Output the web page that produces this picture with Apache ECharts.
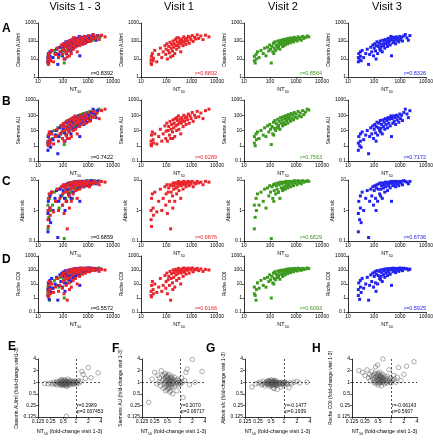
<!DOCTYPE html>
<html><head><meta charset="utf-8">
<script src="https://cdn.jsdelivr.net/npm/echarts@6/dist/echarts.min.js"></script>
<style>html,body{margin:0;padding:0;background:#fff}#c{width:433px;height:440px}</style>
</head><body><div id="c"></div>
<script>
// ---------- DATA ----------
const visitTitles = ['Visits 1 - 3', 'Visit 1', 'Visit 2', 'Visit 3'];
const panelLetters = ['A', 'B', 'C', 'D', 'E', 'F', 'G', 'H'];
const assayNames = ['Diasorin AU/ml', 'Siemens AU', 'Abbott s/c', 'Roche COI'];
const foldNames = ['Diasorin AU/ml (fold-change visit1-3)', 'Siemens AU (fold-change visit 1-3)', 'Abbott s/c (fold-change visit 1-3)', 'Roche COI (fold-change visit 1-3)'];
const xTicksNT50 = [10, 100, 1000, 10000];
const yRangeA = [1, 1000];
const yRangeB = [0.1, 1000];
const yRangeC = [0.1, 10];
const yRangeD = [0.1, 1000];
const foldTicks = [0.125, 0.25, 0.5, 1, 2, 4];
const rA = ['r=0.8392', 'r=0.8892', 'r=0.8564', 'r=0.8326'];
const rB = ['r=0.7422', 'r=0.6289', 'r=0.7563', 'r=0.7172'];
const rC = ['r=0.6859', 'r=0.6876', 'r=0.6829', 'r=0.6736'];
const rD = ['r=0.5572', 'r=0.6166', 'r=0.6093', 'r=0.5925'];
const foldR = ['r=0.2989', 'r=0.2070', 'r=-0.1477', 'r=-0.06143'];
const foldP = ['p=0.007453', 'p=0.06717', 'p=0.1939', 'p=0.5907'];

const nt50V1 = [25,25,26,26,28,30,31,35,42,50, 58,66,75,88,95,98,105,110,118,125, 132,140,148,155,162,175,185,195,205,215, 228,240,255,270,285,300,315,330,350,370, 390,410,430,460,490,520,560,600,640,690, 740,800,870,950,1050,1150,1300,1450,1650,1900, 2300,2800,3500,4800,180,260];
const diasorinV1 = [6,9,14,5,20,8,11,30,7,18, 40,12,25,55,18,35,70,10,30,50, 22,85,13,40,65,28,100,45,70,20, 120,55,35,90,60,150,45,80,110,25, 70,130,95,55,170,85,120,65,140,100, 180,75,150,115,200,95,160,130,220,140, 190,120,210,170,15,150];
const siemensV1 = [1.2,2,5,1,8,2.5,1.5,6,1.3,4, 12,2,6,20,3,9,30,2,10,18, 5,40,3,12,25,8,50,15,30,4, 60,20,10,45,25,90,12,35,55,6, 30,70,45,18,100,40,65,25,80,50, 120,30,90,60,150,40,100,70,180,80, 140,60,200,250,3,70];
const abbottV1 = [0.5,1,2.5,0.3,3.5,1.2,0.7,4,0.9,2, 5,1,2.5,6,1.5,3.5,7,0.8,4,5.5, 2,7,0.25,4,6.5,3,8,5,6.5,2, 8,5.5,3.5,7.5,6,9,4.5,7,8,2.5, 6.5,8.5,7.5,5,9,7,8,6,8.5,7.5, 9,6.5,8.5,7.5,9,6,8,7.5,9,8, 8.5,7,9,8.5,1.2,8];
const rocheV1 = [1.5,3,8,1.2,15,4,2,10,2.5,6, 25,3,8,40,5,15,60,2,20,35, 8,80,0.7,25,55,12,100,30,65,6, 110,45,18,90,55,130,25,75,100,10, 60,120,90,35,140,70,110,50,125,95, 135,60,120,100,140,75,115,105,130,90, 120,80,110,100,4,85];

const nt50V2 = [25,25,27,29,30,33,38,45,55,62, 70,80,90,98,105,112,120,128,136,145, 155,165,175,188,200,212,225,240,255,270, 288,305,325,345,365,385,405,430,455,480, 510,540,575,610,650,700,750,800,860,930, 1000,1100,1200,1300,1450,1600,1800,2000,2300,2700, 3100,140,210,330];
const diasorinV2 = [8,14,6,18,10,25,12,30,20,40, 15,45,28,60,35,6,50,25,75,40, 90,30,60,45,100,55,80,35,110,65, 90,50,120,75,100,60,130,85,110,70, 140,95,120,80,150,105,130,90,160,115, 140,100,170,125,150,110,180,140,160,190, 170,20,40,55];
const siemensV2 = [1.5,4,1,6,2.5,8,3,10,5,15, 4,20,8,25,12,1.2,18,6,35,14, 45,10,28,16,55,22,40,12,70,30, 50,20,80,35,60,25,95,45,70,30, 110,55,80,40,130,60,100,50,150,75, 120,65,180,90,140,80,200,110,160,250, 220,5,15,25];
const abbottV2 = [0.25,1.5,0.6,2.5,1,3.5,1.5,4,2,5, 1.2,5.5,3,6.5,4,0.12,6,2.5,7,4.5, 7.5,3.5,6.5,5,8,4,7,2.5,8.5,5.5, 7.5,4.5,8.5,6,8,5,9,6.5,8,5.5, 9,7,8.5,6,9,7.5,8.5,6.5,9.5,8, 9,7,9.5,8,9,7.5,9.5,8.5,9,9.5, 9,2,4,5];
const rocheV2 = [2,6,1.5,0.7,4,12,5,18,8,25, 6,30,15,45,20,1,35,12,60,25, 75,20,50,30,85,40,70,22,95,50, 80,35,100,60,90,45,110,70,100,55, 120,80,105,65,125,90,110,75,130,95, 120,85,135,100,125,95,130,110,120,140, 125,10,30,45];

const nt50V3 = [25,25,26,28,30,30,32,35,40,48, 55,62,68,75,82,90,96,102,108,115, 122,130,138,146,155,165,175,185,196,208, 220,232,245,260,275,290,310,330,350,370, 395,420,445,470,500,530,565,600,640,680, 730,780,840,900,980,1050,1150,1250,1400,1600, 1850,2100,2400,120,180,450];
const diasorinV3 = [7,12,20,9,25,14,8,30,12,20, 35,5,18,45,25,60,15,40,70,28, 55,90,20,50,75,35,100,45,65,25, 110,55,80,40,120,70,95,50,140,75, 105,60,150,15,120,80,160,95,130,70, 170,110,140,90,180,120,160,100,190,230, 150,110,200,10,30,180];
const siemensV3 = [0.5,1.5,4,1,6,2,0.8,8,2.5,5, 10,0.3,4,15,6,20,3,12,25,7, 18,35,5,15,30,10,45,14,25,6, 50,18,35,12,60,25,45,15,70,30, 55,20,80,4,60,30,90,40,70,25, 100,50,80,35,120,60,100,45,150,250, 120,70,200,2,8,90];
const abbottV3 = [0.2,0.8,2,0.5,3,1.2,0.4,4,1,2.5, 4.5,0.13,2,5,3,6,1.5,4.5,6.5,2.5, 5.5,7,2,5,7.5,3.5,8,5,6.5,2.5, 8,5.5,7,4,8.5,6,7.5,4.5,8.5,6.5, 8,5.5,9,2,8,6.5,9,7,8.5,6, 9,7.5,8.5,6.5,9,8,9,7,9.5,9, 8.5,7.5,9,1,3,8];
const rocheV3 = [1.5,4,12,0.8,18,6,2.5,25,5,10, 30,0.7,8,45,15,60,6,35,75,12, 50,90,10,40,80,25,100,35,65,15, 110,45,85,30,120,60,95,40,125,70, 110,50,130,8,115,75,135,90,120,65, 130,95,125,80,140,105,130,90,135,120, 125,100,115,3,20,110];

const fcNT50 = [0.18,0.22,0.25,0.28,0.3,0.32,0.33,0.35,0.36,0.38, 0.39,0.4,0.41,0.42,0.43,0.44,0.45,0.45,0.46,0.47, 0.48,0.48,0.49,0.5,0.5,0.51,0.52,0.52,0.53,0.54, 0.55,0.55,0.56,0.57,0.58,0.58,0.59,0.6,0.6,0.61, 0.62,0.63,0.64,0.65,0.66,0.67,0.68,0.7,0.72,0.74, 0.76,0.78,0.8,0.82,0.85,0.88,0.9,0.92,0.95,0.98, 1.0,1.05,1.1,1.15,1.2,1.3,1.4,1.5,1.7,2.0, 2.3,3.4,0.62,0.55,0.5,0.45,0.58,0.65];
const fcDiasorin = [0.92,0.9,0.95,0.88,1.0,0.9,0.93,1.05,0.85,0.98, 1.02,0.9,0.95,1.08,0.88,0.93,1.0,0.82,0.97,1.1, 0.9,1.05,0.85,0.95,1.0,0.92,1.12,0.88,0.97,1.02, 0.9,1.15,0.85,0.95,1.05,0.8,1.0,0.9,0.13,1.08, 0.95,0.88,1.02,1.2,0.9,1.0,0.93,1.05,0.85,0.97, 1.1,0.9,1.0,0.95,1.05,0.88,1.0,0.92,1.08,0.95, 1.02,0.9,1.0,1.1,0.95,1.05,1.9,1.6,1.25,2.4, 1.3,1.75,0.78,1.0,0.87,1.18,0.96,0.9];
const fcSiemens = [0.3,1.2,1.8,0.9,1.5,1.0,1.3,0.8,2.0,1.1, 1.5,0.7,1.2,0.9,1.6,1.0,0.75,1.3,0.6,1.1, 1.4,0.85,1.0,0.65,1.2,1.5,0.9,1.1,0.7,1.25, 1.0,0.8,1.6,0.95,1.15,0.55,1.05,0.9,1.3,0.6, 1.1,0.85,1.4,0.75,1.0,1.2,0.5,0.9,1.05,1.35, 0.8,1.0,1.15,0.9,0.6,1.0,1.2,0.85,1.1,0.95, 1.0,0.9,1.3,1.0,0.4,1.1,1.8,2.2,0.85,3.9, 1.0,1.9,1.1,0.9,1.4,1.7,0.7,1.25];
const fcAbbott = [0.75,0.9,0.95,1.0,0.85,0.9,1.05,0.92,0.8,0.98, 1.0,0.88,0.95,1.08,0.9,1.1,0.85,0.95,1.0,0.78, 0.92,1.05,0.88,0.95,1.15,0.9,0.82,1.0,0.93,1.1, 0.85,0.97,0.72,1.05,0.9,1.0,0.68,0.95,1.08,0.88, 0.93,1.0,0.8,0.9,1.02,0.95,0.85,0.65,0.98,0.9, 1.0,0.88,0.95,0.92,0.75,1.0,0.9,0.97,0.85,0.95, 0.9,1.0,0.93,0.95,0.88,0.72,0.97,0.9,1.0,1.05, 0.95,1.0,1.12,0.98,0.9,1.05,0.95,0.87];
const fcRoche = [2.0,1.8,1.5,2.1,1.3,1.6,1.1,1.4,1.9,1.2, 1.5,1.0,1.3,1.7,1.1,2.5,1.4,0.9,1.6,1.2, 1.0,1.35,2.8,1.1,1.5,0.85,1.25,1.6,1.0,1.4, 1.15,1.8,0.95,1.3,1.1,1.5,1.0,1.2,0.8,1.35, 1.05,1.6,1.15,4.0,1.0,1.3,1.2,0.9,1.45,1.1, 1.0,1.25,0.95,1.4,1.1,1.05,2.1,1.2,1.0,1.3, 0.95,1.15,1.1,1.5,1.2,1.0,1.35,2.4,1.1,1.6, 2.6,3.4,1.3,1.2,1.7,1.0,1.4,1.1];

// ---------- BUILD ----------
const FONT = 'Liberation Sans';
const COLORS = ['#e8262b', '#3d9a1f', '#2323f0'];
const nt50 = [nt50V1, nt50V2, nt50V3];
const rows = [
  { name: assayNames[0], data: [diasorinV1, diasorinV2, diasorinV3], range: yRangeA, r: rA, top: 23, h: 54 },
  { name: assayNames[1], data: [siemensV1, siemensV2, siemensV3], range: yRangeB, r: rB, top: 100, h: 61 },
  { name: assayNames[2], data: [abbottV1, abbottV2, abbottV3], range: yRangeC, r: rC, top: 180, h: 61 },
  { name: assayNames[3], data: [rocheV1, rocheV2, rocheV3], range: yRangeD, r: rD, top: 256, h: 56 }
];
const colLeft = [38, 141, 244, 348];
const colW = [75, 76, 78, 78];
const yNameGap = [13, 6, 10, 11];
const foldLeft = [38, 142, 245, 352];
const foldW = [63, 63, 65, 65];
const foldYNameGap = [13, 7, 9, 9];
const foldY = [fcDiasorin, fcSiemens, fcAbbott, fcRoche];

const fmt = v => String(+(+v).toPrecision(6));
const axisCommon = {
  axisLine: { show: true, onZero: false, lineStyle: { color: '#000', width: 0.8 } },
  axisTick: { show: true, length: 2, lineStyle: { color: '#000', width: 0.6 } },
  splitLine: { show: false },
  axisLabel: { fontSize: 5, color: '#000', margin: 2, fontFamily: FONT, formatter: fmt }
};
const nt50Name = '{n|NT}{s|50}';
const nt50Rich = { n: { fontSize: 5.5, fontFamily: FONT, color: '#000', verticalAlign: 'top', lineHeight: 8 }, s: { fontSize: 3.6, fontFamily: FONT, color: '#000', verticalAlign: 'bottom', lineHeight: 8, padding: [3, 0, 0, 0] } };

const grids = [], xAxes = [], yAxes = [], series = [], graphics = [];
const pairs = (xs, ys) => xs.map((x, i) => [x, ys[i]]);

rows.forEach((row, ri) => {
  for (let c = 0; c < 4; c++) {
    const gi = grids.length;
    grids.push({ left: colLeft[c], top: row.top, width: colW[c], height: row.h, outerBoundsMode: 'none', containLabel: false });
    xAxes.push(Object.assign({}, axisCommon, {
      type: 'log', logBase: 10, gridIndex: gi, min: xTicksNT50[0], max: xTicksNT50[xTicksNT50.length - 1],
      name: nt50Name, nameLocation: 'middle', nameGap: 9,
      nameTextStyle: { rich: nt50Rich }
    }));
    yAxes.push(Object.assign({}, axisCommon, {
      type: 'log', logBase: 10, gridIndex: gi, min: row.range[0], max: row.range[1],
      name: row.name, nameLocation: 'middle', nameGap: yNameGap[c],
      nameTextStyle: { fontSize: 5, fontFamily: FONT, color: '#000' }
    }));
    const visits = c === 0 ? [1, 2, 0] : [c - 1];
    visits.forEach(v => {
      series.push({
        type: 'scatter', xAxisIndex: gi, yAxisIndex: gi, symbol: 'rect', symbolSize: 3,
        itemStyle: { color: COLORS[v], opacity: 1 },
        data: pairs(nt50[v], row.data[v]), silent: true, animation: false
      });
    });
    graphics.push({
      type: 'text', x: colLeft[c] + colW[c], y: row.top + row.h - 4,
      style: { text: row.r[c], font: '5.5px ' + FONT, fill: c === 0 ? '#000' : COLORS[c - 1], align: 'right', verticalAlign: 'middle' }
    });
  }
});

for (let c = 0; c < 4; c++) {
  const gi = grids.length;
  grids.push({ left: foldLeft[c], top: 359, width: foldW[c], height: 58, outerBoundsMode: 'none', containLabel: false });
  xAxes.push(Object.assign({}, axisCommon, {
    type: 'log', logBase: 2, gridIndex: gi, min: foldTicks[0], max: foldTicks[foldTicks.length - 1],
    name: '{n|NT}{s|50}{n| (fold-change visit 1-3)}', nameLocation: 'middle', nameGap: 11,
    nameTextStyle: { rich: nt50Rich }
  }));
  yAxes.push(Object.assign({}, axisCommon, {
    type: 'log', logBase: 2, gridIndex: gi, min: foldTicks[0], max: foldTicks[foldTicks.length - 1],
    name: foldNames[c], nameLocation: 'middle', nameGap: foldYNameGap[c],
    nameTextStyle: { fontSize: 5, fontFamily: FONT, color: '#000' }
  }));
  series.push({
    type: 'scatter', xAxisIndex: gi, yAxisIndex: gi, symbol: 'circle', symbolSize: 4.5,
    itemStyle: { color: 'rgba(255,255,255,0)', borderColor: '#555', borderWidth: 0.6 },
    data: pairs(fcNT50, foldY[c]), silent: true, animation: false,
    markLine: {
      silent: true, symbol: 'none', animation: false, label: { show: false },
      lineStyle: { type: [2, 2], color: '#222', width: 0.8 },
      data: [{ xAxis: 1 }, { yAxis: 1 }]
    }
  });
  graphics.push({
    type: 'text', x: foldLeft[c] + foldW[c] * 0.6 + 1, y: 409,
    style: { text: foldR[c] + '\n' + foldP[c], font: '5px ' + FONT, fill: '#000', align: 'left', verticalAlign: 'middle', lineHeight: 6 }
  });
}

const titleX = [75, 179, 283, 387];
visitTitles.forEach((t, i) => graphics.push({
  type: 'text', x: titleX[i], y: 7,
  style: { text: t, font: '11px ' + FONT, fill: '#000', align: 'center', verticalAlign: 'middle' }
}));
const letterPos = [[2, 29], [2, 102], [2, 182], [2, 260], [8, 347], [112, 349], [206, 349], [312, 349]];
panelLetters.forEach((l, i) => graphics.push({
  type: 'text', x: letterPos[i][0], y: letterPos[i][1],
  style: { text: l, font: 'bold 12px ' + FONT, fill: '#000', align: 'left', verticalAlign: 'middle' }
}));

const chart = echarts.init(document.getElementById('c'), null, { renderer: 'canvas' });
chart.setOption({
  animation: false,
  backgroundColor: '#fff',
  grid: grids, xAxis: xAxes, yAxis: yAxes, series: series, graphic: graphics
});
</script></body></html>
